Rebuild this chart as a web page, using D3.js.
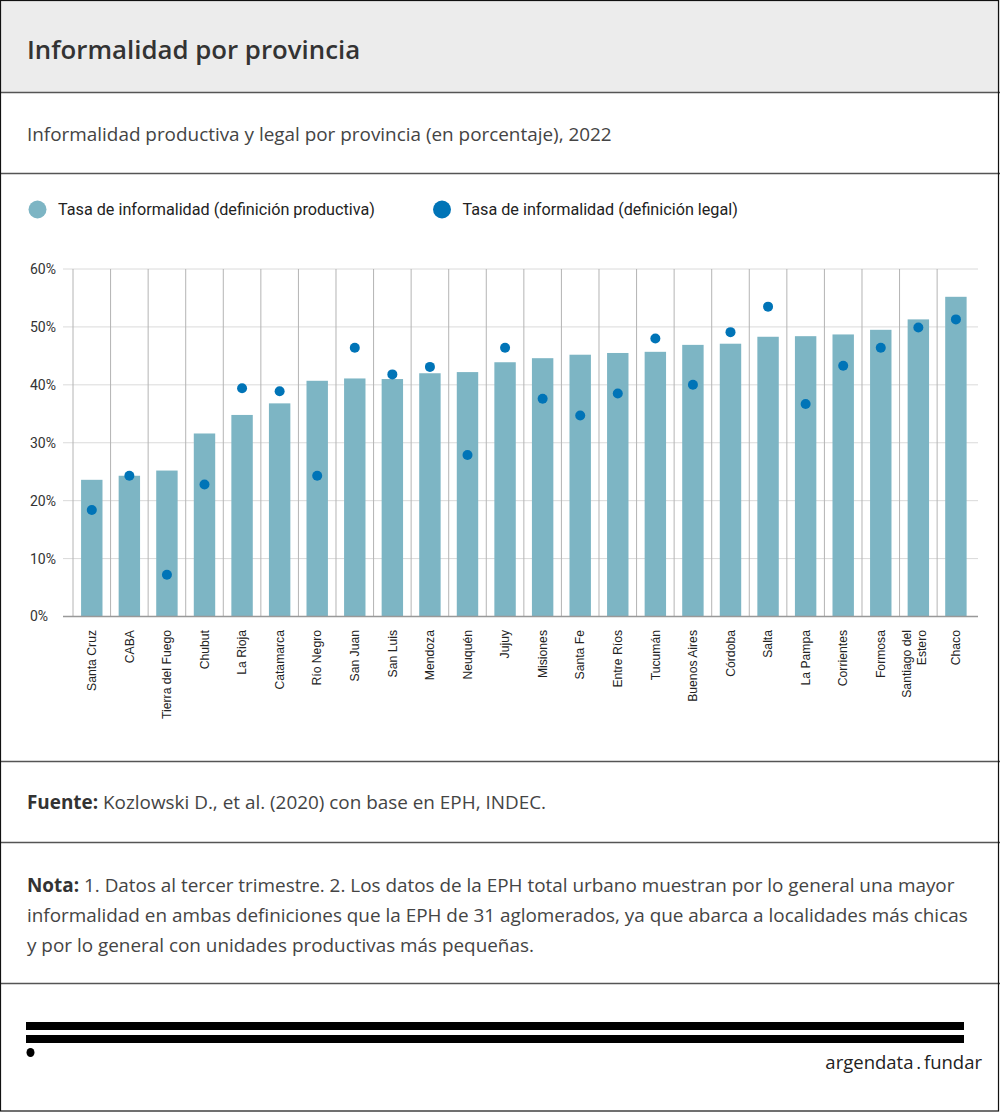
<!DOCTYPE html>
<html>
<head>
<meta charset="utf-8">
<script src="https://cdn.jsdelivr.net/npm/d3@7"></script>
<style>
  html, body { margin: 0; padding: 0; background: #fff; }
  svg { display: block; }
</style>
</head>
<body>
<svg id="c" width="1000" height="1112"></svg>
<script>
const provincias = ["Santa Cruz","CABA","Tierra del Fuego","Chubut","La Rioja","Catamarca","Río Negro","San Juan","San Luis","Mendoza","Neuquén","Jujuy","Misiones","Santa Fe","Entre Ríos","Tucumán","Buenos Aires","Córdoba","Salta","La Pampa","Corrientes","Formosa","Santiago del Estero","Chaco"];
const productiva = [23.6,24.3,25.2,31.6,34.8,36.8,40.7,41.1,41.0,42.0,42.2,43.9,44.6,45.2,45.5,45.7,46.9,47.1,48.3,48.4,48.7,49.5,51.3,55.2];
const legal = [18.4,24.3,7.2,22.8,39.4,38.9,24.3,46.4,41.8,43.1,27.9,46.4,37.6,34.7,38.5,48.0,40.0,49.1,53.5,36.7,43.3,46.4,49.9,51.3];
const yTicks = [0,10,20,30,40,50,60];
const seriesNames = ["Tasa de informalidad (definición productiva)","Tasa de informalidad (definición legal)"];
const colors = ["#7db5c4","#0074b7"];

const svg = d3.select("#c");
const W = 1000, H = 1112;
const sans = "'Open Sans', 'Noto Sans', sans-serif";

svg.append("rect").attr("width",W).attr("height",H).attr("fill","#fff");
svg.append("rect").attr("x",0).attr("y",0).attr("width",W).attr("height",92).attr("fill","#ececec");

// section separators
[92,173,761,842,983].forEach(y=>{
  svg.append("line").attr("x1",0).attr("x2",W).attr("y1",y+0.5).attr("y2",y+0.5)
    .attr("stroke","#555").attr("stroke-width",1.3);
});

// title / subtitle
svg.append("text").attr("x",27).attr("y",59).text("Informalidad por provincia")
  .attr("font-family",sans).attr("font-weight",600).attr("font-size",25.8).attr("fill","#333");
svg.append("text").attr("x",27).attr("y",141).text("Informalidad productiva y legal por provincia (en porcentaje), 2022")
  .attr("font-family",sans).attr("font-size",18.9).attr("fill","#444");

// legend
const legX = [37.5, 442];
seriesNames.forEach((n,i)=>{
  svg.append("circle").attr("cx",legX[i]).attr("cy",209.5).attr("r",9).attr("fill",colors[i]);
  svg.append("text").attr("x",legX[i]+20.5).attr("y",215).text(n)
    .attr("font-family","Roboto, sans-serif").attr("font-size",16.2).attr("fill","#222");
});

// scales
const x = d3.scaleBand().domain(provincias).range([73,974.7]).paddingInner(0.43).paddingOuter(0.215);
const y = d3.scaleLinear().domain([0,60]).range([616.5,269]);
const step = x.step();
const x0 = x.range()[0];

const g = svg.append("g");
// horizontal grid
yTicks.forEach(t=>{
  g.append("line").attr("x1",63).attr("x2",978).attr("y1",y(t)).attr("y2",y(t))
    .attr("stroke","#dadada").attr("stroke-width",1);
});
// vertical grid at band boundaries
provincias.forEach((p,i)=>{
  const xx = x0 + i*step;
  g.append("line").attr("x1",xx).attr("x2",xx).attr("y1",y(60)).attr("y2",y(0))
    .attr("stroke","#b4b4b4").attr("stroke-width",1);
});

// y axis labels
const yAxis = d3.axisLeft(y).tickValues(yTicks).tickFormat(d=>d+"%").tickSize(0);
const ya = svg.append("g").attr("transform","translate(30,0)").call(yAxis);
ya.select(".domain").remove();
ya.selectAll("text").attr("text-anchor","start").attr("x",0).attr("dy","0.32em")
  .attr("font-family","Roboto, sans-serif").attr("font-size",14).attr("fill","#333");

// bars
g.selectAll("rect.bar").data(provincias).join("rect").attr("class","bar")
  .attr("x",d=>x(d)).attr("width",x.bandwidth())
  .attr("y",(d,i)=>y(productiva[i])).attr("height",(d,i)=>y(0)-y(productiva[i]))
  .attr("fill",colors[0]);

// baseline
g.append("line").attr("x1",63).attr("x2",978).attr("y1",y(0)).attr("y2",y(0))
  .attr("stroke","#999").attr("stroke-width",1.6);

// dots
g.selectAll("circle.dot").data(provincias).join("circle").attr("class","dot")
  .attr("cx",d=>x(d)+x.bandwidth()/2).attr("cy",(d,i)=>y(legal[i])).attr("r",5)
  .attr("fill",colors[1]);

// x labels
const xAxis = d3.axisBottom(x).tickSize(0);
const xa = svg.append("g").attr("transform",`translate(0,${y(0)})`).call(xAxis);
xa.select(".domain").remove();
xa.selectAll(".tick text").remove();
xa.selectAll(".tick").each(function(d){
  const t = d3.select(this);
  const lines = d === "Santiago del Estero" ? ["Santiago del","Estero"] : [d];
  const offs = lines.length === 2 ? [-11.5, 3.5] : [0];
  lines.forEach((ln,k)=>{
    t.append("text").attr("transform",`translate(${offs[k]},13.5) rotate(-90)`)
      .attr("text-anchor","end").attr("dy","0.35em").text(ln)
      .attr("font-family","'Liberation Sans', Arial, sans-serif").attr("font-size",12.2).attr("fill","#222");
  });
});

// fuente
const f = svg.append("text").attr("x",27).attr("y",809).attr("font-family",sans).attr("font-size",18.9).attr("fill","#444");
f.append("tspan").attr("font-weight",700).attr("fill","#333").text("Fuente:");
f.append("tspan").text(" Kozlowski D., et al. (2020) con base en EPH, INDEC.");

// nota
const notaLines = [
  ["Nota:"," 1. Datos al tercer trimestre. 2. Los datos de la EPH total urbano muestran por lo general una mayor"],
  ["","informalidad en ambas definiciones que la EPH de 31 aglomerados, ya que abarca a localidades más chicas"],
  ["","y por lo general con unidades productivas más pequeñas."]
];
notaLines.forEach((l,i)=>{
  const t = svg.append("text").attr("x",27).attr("y",892+i*30).attr("font-family",sans).attr("font-size",18.9).attr("fill","#444");
  if (l[0]) t.append("tspan").attr("font-weight",700).attr("fill","#333").text(l[0]);
  t.append("tspan").text(l[1]);
});

// logo
svg.append("rect").attr("x",26).attr("y",1022).attr("width",938).attr("height",8).attr("fill","#000");
svg.append("rect").attr("x",26).attr("y",1035).attr("width",938).attr("height",8).attr("fill","#000");
svg.append("ellipse").attr("cx",30.5).attr("cy",1052.5).attr("rx",4).attr("ry",4.5).attr("fill","#000");
svg.append("text").attr("x",982).attr("y",1069).attr("text-anchor","end").text("argendata . fundar")
  .attr("font-family","'Open Sans', sans-serif").attr("font-size",18.5).attr("word-spacing",-2).attr("fill","#222");

// outer border
svg.append("rect").attr("x",0.5).attr("y",0.5).attr("width",998).attr("height",1110.5)
  .attr("fill","none").attr("stroke","#111").attr("stroke-width",1.2);
</script>
</body>
</html>
